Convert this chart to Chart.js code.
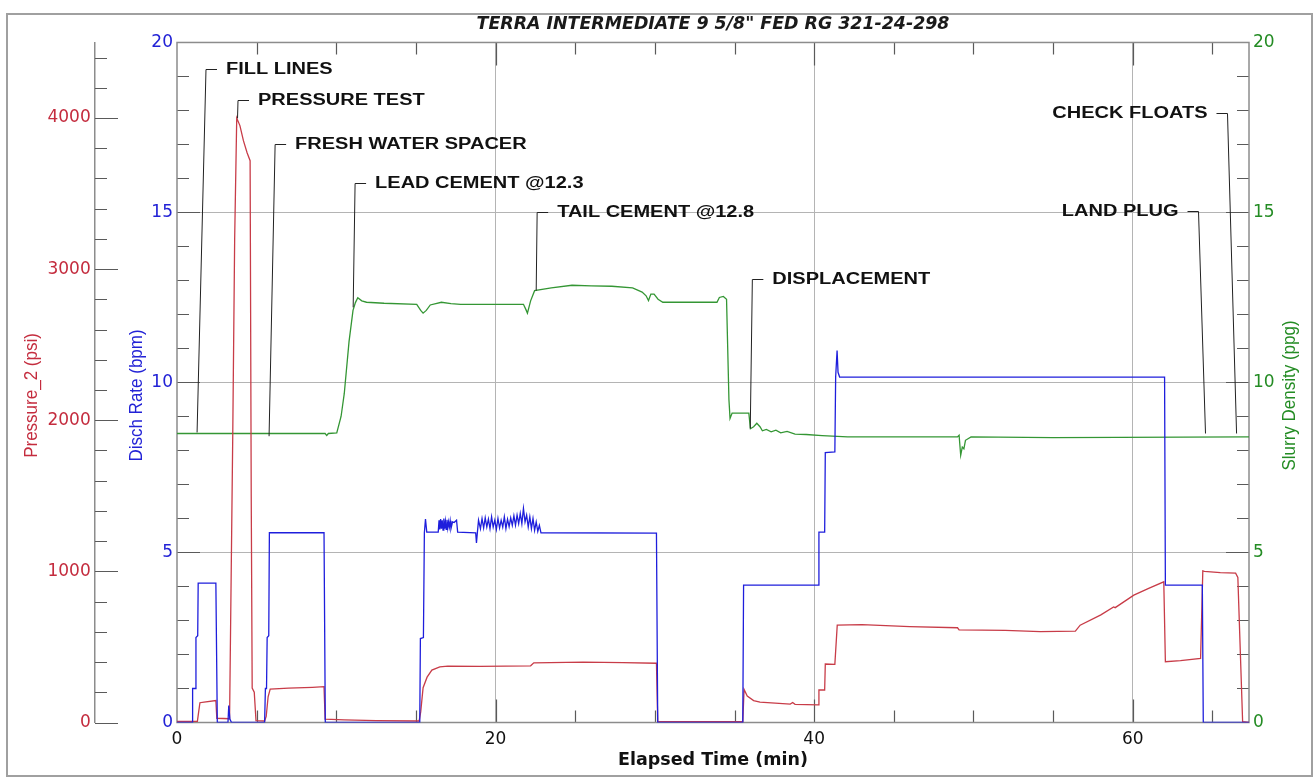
<!DOCTYPE html>
<html>
<head>
<meta charset="utf-8">
<title>TERRA INTERMEDIATE 9 5/8" FED RG 321-24-298</title>
<script src="https://cdn.jsdelivr.net/npm/chart.js@4.4.0/dist/chart.umd.min.js"></script>
<style>
  html, body { margin: 0; padding: 0; background: #fff; }
  #wrap { width: 1314px; height: 779px; position: relative; }
</style>
</head>
<body>
<div id="wrap"><canvas id="myChart"></canvas></div>
<script>
"use strict";

//------------- chart values --------------------------------------
var chartTitle = 'TERRA INTERMEDIATE 9 5/8" FED RG 321-24-298';
var xTitle = "Elapsed Time (min)";
var pressureTitle = "Pressure_2 (psi)";
var rateTitle = "Disch Rate (bpm)";
var densityTitle = "Slurry Density (ppg)";

var timeMax = 67.3;
var pressureMax = 4500;
var rateMax = 20;
var densityMax = 20;

// tick labels
var timeTicks = [0, 20, 40, 60];
var pressureTicks = [0, 1000, 2000, 3000, 4000];
var rateTicks = [0, 5, 10, 15, 20];
var densityTicks = [0, 5, 10, 15, 20];

// Disch Rate (bpm)
var rateTime = [
  0, 0.95, 0.98, 1.15, 1.19, 1.3, 1.33, 2.44, 2.53, 3.2, 3.25, 3.32, 3.42, 5.5,
  5.55, 5.62, 5.66, 5.76, 5.8, 9.23, 9.31, 15.24, 15.28, 15.47, 15.53, 15.6, 15.68, 16.4,
  16.45, 16.5, 16.55, 16.6, 16.65, 16.7, 16.75, 16.8, 16.85, 16.9, 16.95, 17.0, 17.05, 17.1, 17.15, 17.2, 17.3, 17.4, 17.55, 17.62,
  18.75, 18.8, 18.86, 18.93,
  19.05, 19.15, 19.25, 19.35, 19.45, 19.55, 19.65, 19.75, 19.85, 19.95, 20.05, 20.15, 20.25, 20.35, 20.45, 20.55, 20.65, 20.75, 20.85, 20.95,
  21.05, 21.15, 21.25, 21.35, 21.45, 21.55, 21.65, 21.75, 21.85, 21.95, 22.05, 22.15, 22.25, 22.35, 22.45, 22.55, 22.65, 22.75, 22.85,
  30.1, 30.18, 35.52, 35.57, 40.26, 40.3, 40.66, 40.7, 41.3, 41.35, 41.44, 41.5, 41.6, 62.0, 62.05, 64.37, 64.43, 67.3
];
var rateValues = [
  0, 0, 1.0, 1.0, 2.5, 2.55, 4.1, 4.1, 0, 0, 0.5, 0.1, 0, 0,
  1.0, 1.0, 2.5, 2.55, 5.58, 5.58, 0, 0, 2.47, 2.5, 5.58, 5.98, 5.6, 5.6,
  5.95, 5.68, 5.98, 5.7, 5.95, 5.66, 6.0, 5.7, 5.92, 5.68, 5.96, 5.72, 5.9, 5.75, 5.93, 5.7, 5.9, 5.88, 5.95, 5.6,
  5.58, 5.28, 5.6, 5.95,
  5.7, 6.0, 5.72, 6.02, 5.75, 5.98, 5.7, 6.05, 5.75, 5.95, 5.68, 6.0, 5.72, 5.95, 5.75, 6.05, 5.7, 5.98, 5.76, 6.02,
  5.8, 6.08, 5.8, 6.1, 5.85, 6.15, 5.85, 6.3, 5.9, 6.1, 5.75, 6.05, 5.7, 6.0, 5.65, 5.9, 5.62, 5.8, 5.58,
  5.57, 0, 0, 4.04, 4.04, 5.6, 5.6, 7.94, 7.96, 10.16, 10.94, 10.3, 10.16, 10.16, 4.04, 4.04, 0, 0
];

// Pressure_2 (psi)
var pressureTime = [
  0, 1.28, 1.36, 1.44, 1.7, 2.44, 2.5, 3.3, 3.5, 3.62, 3.75, 3.95, 4.17, 4.4, 4.59, 4.66, 4.72, 4.85, 4.96, 5.5,
  5.6, 5.72, 5.85, 7.0, 8.5, 9.23, 9.3, 10.5, 12.5, 15.2, 15.3, 15.45, 15.7, 16.0, 16.5, 17.0, 19.0, 22.2, 22.4,
  25.5, 28.0, 30.1, 30.18, 35.52, 35.6, 35.8, 36.2, 36.6, 38.5, 38.65, 38.8, 40.26, 40.3, 40.66, 40.7, 41.3, 41.45, 43.0,
  46.0, 49.0, 49.1, 52.0, 54.2, 56.4, 56.7, 58.0, 58.8, 58.9, 60.07, 61.0, 61.95, 62.05, 63.0, 64.26, 64.4, 64.5, 65.5, 66.46, 66.6, 66.9, 67.3
];
var pressureValues = [
  8, 8, 70, 131, 135, 145, 28, 25, 1900, 3200, 4000, 3950, 3850, 3770, 3718, 1500, 228, 200, 12, 10,
  40, 170, 221, 228, 233, 237, 22, 18, 12, 10, 70, 230, 300, 347, 368, 373, 372, 375, 395,
  400, 396, 392, 8, 5, 219, 175, 145, 135, 122, 132, 120, 116, 215, 215, 387, 385, 644, 648,
  635, 627, 613, 610, 602, 605, 644, 712, 765, 760, 843, 888, 931, 402, 410, 424, 1003, 1000, 992, 988, 960, 5, 0
];

// Slurry Density (ppg)
var densityTime = [
  0, 9.3, 9.4, 9.5, 10.03, 10.3, 10.5, 10.8, 11.05, 11.2, 11.35, 11.6, 11.9, 13.0, 15.05, 15.3, 15.45, 15.65, 15.9, 16.6,
  17.2, 17.8, 19.5, 21.75, 21.9, 22.0, 22.2, 22.45, 23.5, 24.8, 26.0, 27.3, 28.6, 29.2, 29.45, 29.6, 29.75, 29.95, 30.2, 30.5,
  33.9, 34.05, 34.3, 34.5, 34.65, 34.72, 34.85, 35.9, 36.0, 36.2, 36.4, 36.6, 36.75, 37.0, 37.3, 37.6, 37.9, 38.3, 38.8, 39.5,
  40.5, 42.1, 49.0, 49.1, 49.2, 49.3, 49.4, 49.5, 49.85, 55.0, 67.3
];
var densityValues = [
  8.5, 8.5, 8.44, 8.5, 8.52, 9.0, 9.67, 11.2, 12.12, 12.35, 12.49, 12.4, 12.36, 12.33, 12.3, 12.12, 12.04, 12.12, 12.28, 12.36,
  12.32, 12.3, 12.3, 12.3, 12.15, 12.04, 12.4, 12.7, 12.78, 12.86, 12.84, 12.83, 12.78, 12.66, 12.55, 12.41, 12.6, 12.6, 12.45, 12.36,
  12.36, 12.5, 12.53, 12.45, 9.5, 8.94, 9.1, 9.1, 8.64, 8.7, 8.8, 8.7, 8.58, 8.62, 8.55, 8.6, 8.52, 8.56, 8.48, 8.47,
  8.44, 8.4, 8.4, 8.45, 7.86, 8.1, 8.05, 8.3, 8.4, 8.38, 8.4
];

// event callouts, in minutes and ppg units
var eventLabels = ["FILL LINES", "PRESSURE TEST", "FRESH WATER SPACER", "LEAD CEMENT @12.3",
  "TAIL CEMENT @12.8", "DISPLACEMENT", "LAND PLUG", "CHECK FLOATS"];
var eventTipTime = [1.26, 3.8, 5.78, 11.06, 22.55, 35.99, 64.57, 66.52];
var eventTipValue = [8.53, 17.77, 8.42, 12.21, 12.7, 8.65, 8.5, 8.5];
var eventKneeTime = [1.82, 3.83, 6.16, 11.18, 22.61, 36.12, 64.13, 65.95];
var eventKneeValue = [19.22, 18.32, 17.02, 15.88, 15.0, 13.03, 15.03, 17.94];
var eventSide = ["right", "right", "right", "right", "right", "right", "left", "left"];

//------------- colours and fonts ----------------
var redColor = "rgb(196, 44, 62)";
var blueColor = "rgb(34, 34, 214)";
var greenColor = "rgb(36, 140, 36)";
var redLine = "rgb(200, 60, 72)";
var blueLine = "rgb(30, 30, 220)";
var greenLine = "rgb(52, 150, 52)";
var tickFont = { family: "DejaVu Sans", size: 17 };

function toPoints(times, values) {
  var pts = [];
  for (var i = 0; i < times.length; i++) {
    pts.push({ x: times[i], y: values[i] });
  }
  return pts;
}

// force the tick values from one of the tick arrays
function fixedTicks(values) {
  return function (scale) {
    scale.ticks = values.map(function (v) { return { value: v }; });
  };
}

function plainLabel(value) {
  return String(value);
}

function hideEnds(max) {
  return function (ctx) {
    if (!ctx.tick || ctx.tick.value === 0 || ctx.tick.value === max) {
      return "rgba(0,0,0,0)";
    }
    return "#b4b4b4";
  };
}

//------------- frame, inward ticks and axis titles ----------------
var framePlugin = {
  id: "frame",
  beforeDraw: function (chart) {
    var ctx = chart.ctx;
    ctx.save();
    ctx.fillStyle = "#fff";
    ctx.fillRect(0, 0, chart.width, chart.height);
    ctx.strokeStyle = "#a0a0a0";
    ctx.lineWidth = 2;
    ctx.strokeRect(7, 14, 1305, 762);
    ctx.restore();
  },
  beforeDatasetsDraw: function (chart) {
    var ctx = chart.ctx;
    var a = chart.chartArea;
    var xs = chart.scales.x;
    var ys = chart.scales.y;
    var ps = chart.scales.yP;
    var v, px, len;
    ctx.save();
    ctx.strokeStyle = "#5a5a5a";
    ctx.lineWidth = 1.2;
    ctx.beginPath();
    // time ticks, bottom and top
    for (v = 5; v < timeMax; v += 5) {
      px = Math.round(xs.getPixelForValue(v)) + 0.5;
      len = v % 20 === 0 ? 23 : 12;
      ctx.moveTo(px, a.bottom);
      ctx.lineTo(px, a.bottom - len);
      ctx.moveTo(px, a.top);
      ctx.lineTo(px, a.top + len);
    }
    // rate ticks left edge, density ticks right edge
    for (v = 1; v < rateMax; v++) {
      px = Math.round(ys.getPixelForValue(v)) + 0.5;
      len = v % 5 === 0 ? 23 : 12;
      ctx.moveTo(a.left, px);
      ctx.lineTo(a.left + len, px);
      ctx.moveTo(a.right, px);
      ctx.lineTo(a.right - len, px);
    }
    // pressure ticks point right from its own axis line
    for (v = 0; v < pressureMax; v += 200) {
      px = Math.round(ps.getPixelForValue(v)) + 0.5;
      len = v % 1000 === 0 ? 23 : 12;
      ctx.moveTo(ps.right, px);
      ctx.lineTo(ps.right + len, px);
    }
    ctx.stroke();
    ctx.strokeStyle = "#8c8c8c";
    ctx.lineWidth = 1.5;
    ctx.strokeRect(a.left, a.top, a.right - a.left, a.bottom - a.top);
    ctx.restore();
  },
  afterDraw: function (chart) {
    var ctx = chart.ctx;
    var a = chart.chartArea;
    var midY = (a.top + a.bottom) / 2 + 13;
    var titles = [
      [pressureTitle, chart.scales.yP.left + 24, redColor],
      [rateTitle, chart.scales.y.left + 41.5, blueColor],
      [densityTitle, chart.scales.yD.left + 41, greenColor]
    ];
    ctx.save();
    ctx.font = '17px "Liberation Sans", Arial, sans-serif';
    ctx.textAlign = "center";
    ctx.textBaseline = "middle";
    for (var i = 0; i < titles.length; i++) {
      ctx.save();
      ctx.translate(titles[i][1], midY);
      ctx.scale(1.12, 1);
      ctx.rotate(-Math.PI / 2);
      ctx.fillStyle = titles[i][2];
      ctx.fillText(titles[i][0], 0, 0);
      ctx.restore();
    }
    ctx.restore();
  }
};

var eventPlugin = {
  id: "events",
  afterDatasetsDraw: function (chart) {
    var ctx = chart.ctx;
    var xs = chart.scales.x;
    var ds = chart.scales.yD;
    ctx.save();
    ctx.strokeStyle = "#222";
    ctx.lineWidth = 1;
    ctx.fillStyle = "#111";
    ctx.font = 'bold 16px "Liberation Sans", Arial, sans-serif';
    ctx.textBaseline = "middle";
    for (var i = 0; i < eventLabels.length; i++) {
      var tx = xs.getPixelForValue(eventTipTime[i]);
      var ty = ds.getPixelForValue(eventTipValue[i]);
      var kx = xs.getPixelForValue(eventKneeTime[i]);
      var ky = Math.round(ds.getPixelForValue(eventKneeValue[i])) + 0.5;
      var dir = eventSide[i] === "left" ? -1 : 1;
      ctx.beginPath();
      ctx.moveTo(tx, ty);
      ctx.lineTo(kx, ky);
      ctx.lineTo(kx + dir * 11, ky);
      ctx.stroke();
      ctx.save();
      ctx.translate(kx + dir * 20, ky);
      ctx.scale(1.25, 1);
      ctx.textAlign = dir < 0 ? "right" : "left";
      ctx.fillText(eventLabels[i], 0, 0);
      ctx.restore();
    }
    ctx.restore();
  }
};

//------------- the chart ----------------
var ctx = document.getElementById("myChart").getContext("2d");
var chart = new Chart(ctx, {
  type: "line",
  data: {
    datasets: [
      {
        label: rateTitle,
        data: toPoints(rateTime, rateValues),
        yAxisID: "y",
        borderColor: blueLine,
        borderWidth: 1.3,
        pointRadius: 0,
        fill: false,
        tension: 0
      },
      {
        label: pressureTitle,
        data: toPoints(pressureTime, pressureValues),
        yAxisID: "yP",
        borderColor: redLine,
        borderWidth: 1.3,
        pointRadius: 0,
        fill: false,
        tension: 0
      },
      {
        label: densityTitle,
        data: toPoints(densityTime, densityValues),
        yAxisID: "yD",
        borderColor: greenLine,
        borderWidth: 1.3,
        pointRadius: 0,
        fill: false,
        tension: 0
      }
    ]
  },
  options: {
    responsive: true,
    maintainAspectRatio: false,
    animation: false,
    layout: { padding: { top: 10, left: 8, right: 4, bottom: 4 } },
    plugins: {
      legend: { display: false },
      tooltip: { enabled: false },
      title: {
        display: true,
        text: chartTitle,
        fullSize: false,
        color: "#1a1a1a",
        font: { family: "DejaVu Sans", size: 17.4, weight: "bold", style: "italic" },
        padding: { top: 3.8, bottom: 7.8 }
      }
    },
    scales: {
      x: {
        type: "linear",
        position: "bottom",
        min: 0,
        max: timeMax,
        afterBuildTicks: fixedTicks(timeTicks),
        ticks: {
          color: "#111",
          font: tickFont,
          padding: 7.3,
          maxRotation: 0,
          callback: plainLabel
        },
        grid: { drawTicks: false, color: hideEnds(-1), lineWidth: 1 },
        border: { display: false },
        title: {
          display: true,
          text: xTitle,
          color: "#111",
          font: { family: "DejaVu Sans", size: 17.5, weight: "bold" },
          padding: { top: 0, bottom: 3.8 }
        },
        afterFit: function (scale) { scale.height = 52.5; }
      },
      y: {
        type: "linear",
        position: "left",
        weight: 0,
        min: 0,
        max: rateMax,
        afterBuildTicks: fixedTicks(rateTicks),
        ticks: { color: blueColor, font: tickFont, padding: 4, callback: plainLabel },
        grid: { drawTicks: false, color: hideEnds(rateMax), lineWidth: 1 },
        border: { display: false },
        afterFit: function (scale) { scale.width = 82; }
      },
      yP: {
        type: "linear",
        position: "left",
        weight: 1,
        min: 0,
        max: pressureMax,
        afterBuildTicks: fixedTicks(pressureTicks),
        ticks: { color: redColor, font: tickFont, padding: 4.3, callback: plainLabel },
        grid: { display: false, drawTicks: false, drawOnChartArea: false },
        border: { display: true, color: "#8c8c8c", width: 1.5 },
        afterFit: function (scale) { scale.width = 87; }
      },
      yD: {
        type: "linear",
        position: "right",
        min: 0,
        max: densityMax,
        afterBuildTicks: fixedTicks(densityTicks),
        ticks: { color: greenColor, font: tickFont, padding: 4, callback: plainLabel },
        grid: { display: false, drawTicks: false, drawOnChartArea: false },
        border: { display: false },
        afterFit: function (scale) { scale.width = 61; }
      }
    }
  },
  plugins: [framePlugin, eventPlugin]
});
</script>
</body>
</html>
